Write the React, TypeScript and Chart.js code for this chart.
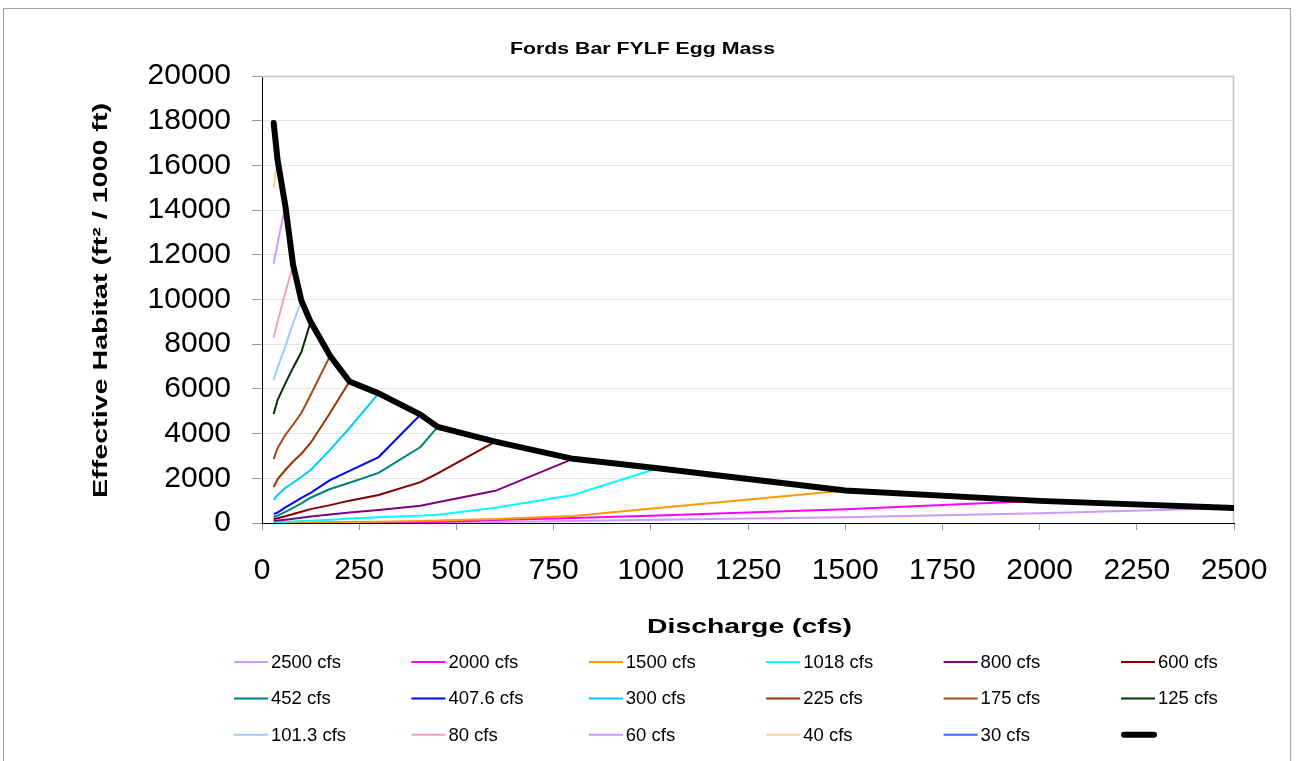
import React, { useEffect, useRef } from "react";
import { Chart, registerables } from "chart.js";

Chart.register(...registerables);

// ---------- data ----------
const discharge = [30, 40, 60, 80, 101.3, 125, 175, 225, 300, 407.6, 452, 600, 800, 1018, 1500, 2000, 2500];

const s2500 = [2, 2, 3, 4, 5, 6, 8, 10, 12, 18, 20, 50, 90, 140, 255, 440, 670];
const s2000 = [5, 5, 6, 8, 10, 12, 15, 20, 25, 40, 50, 130, 220, 330, 610, 990];
const s1500 = [10, 12, 15, 20, 25, 30, 40, 50, 60, 90, 110, 180, 310, 670, 1450];
const s1018 = [30, 35, 50, 70, 85, 100, 150, 200, 260, 330, 370, 680, 1250, 2450];
const s800 = [100, 110, 150, 190, 240, 290, 380, 470, 580, 770, 930, 1440, 2870];
const s600 = [180, 210, 300, 400, 500, 620, 800, 1000, 1250, 1830, 2220, 3640];
const s452 = [270, 330, 500, 680, 880, 1130, 1520, 1800, 2240, 3400, 4300];
const s407 = [400, 470, 700, 900, 1120, 1350, 1920, 2330, 2950, 4850];
const s300 = [1030, 1250, 1570, 1800, 2060, 2370, 3270, 4250, 5800];
const s225 = [1610, 1950, 2370, 2750, 3100, 3580, 4920, 6330];
const s175 = [2860, 3350, 3940, 4400, 4920, 5730, 7480];
const s125 = [4880, 5500, 6250, 6950, 7650, 9000];
const s101 = [6400, 6950, 7900, 8950, 9950];
const s80 = [8300, 9000, 10300, 11550];
const s60 = [11600, 12500, 14200];
const s40 = [15000, 16250];
const s30 = [17900];
const envelope = [17900, 16250, 14200, 11550, 9950, 9000, 7480, 6330, 5800, 4850, 4300, 3640, 2870, 2450, 1450, 990, 670];

const seriesLabels = [
  "2500 cfs", "2000 cfs", "1500 cfs", "1018 cfs", "800 cfs", "600 cfs",
  "452 cfs", "407.6 cfs", "300 cfs", "225 cfs", "175 cfs", "125 cfs",
  "101.3 cfs", "80 cfs", "60 cfs", "40 cfs", "30 cfs", "",
];
const seriesValues = [
  s2500, s2000, s1500, s1018, s800, s600,
  s452, s407, s300, s225, s175, s125,
  s101, s80, s60, s40, s30, envelope,
];
const seriesColors = [
  "#CC99FF", "#FF00FF", "#FF9900", "#00FFFF", "#800080", "#800000",
  "#008080", "#0000FF", "#00CCFF", "#993300", "#A64B13", "#003300",
  "#99CCFF", "#FF99CC", "#CC99FF", "#FFCC99", "#3366FF", "#000000",
];

const xTickValues = [0, 250, 500, 750, 1000, 1250, 1500, 1750, 2000, 2250, 2500];
const yTickValues = [0, 2000, 4000, 6000, 8000, 10000, 12000, 14000, 16000, 18000, 20000];

const chartTitle = "Fords Bar FYLF Egg Mass";
const xTitle = "Discharge (cfs)";
const yTitle = "Effective Habitat (ft² / 1000 ft)";

const FONT = "'Liberation Sans', Arial, sans-serif";

function toPoints(vals: number[]) {
  return vals.map((y, i) => ({ x: discharge[i], y }));
}

function stretched(ctx: CanvasRenderingContext2D, text: string, x: number, y: number, width: number, font: string, rot = 0) {
  ctx.save();
  ctx.font = font;
  const m = ctx.measureText(text).width || 1;
  ctx.translate(x, y);
  if (rot) ctx.rotate(rot);
  ctx.scale(width / m, 1);
  ctx.textAlign = "center";
  ctx.textBaseline = "alphabetic";
  ctx.fillStyle = "#000";
  ctx.fillText(text, 0, 0);
  ctx.restore();
}

const decorPlugin = {
  id: "decor",
  beforeDraw(chart: any) {
    const ctx = chart.ctx as CanvasRenderingContext2D;
    ctx.save();
    ctx.fillStyle = "#ffffff";
    ctx.fillRect(0, 0, chart.width, chart.height);
    ctx.strokeStyle = "#a0a0a0";
    ctx.lineWidth = 1;
    ctx.strokeRect(3.5, 8.5, 1287, 800);
    ctx.restore();
  },
  beforeDatasetsDraw(chart: any) {
    const ctx = chart.ctx as CanvasRenderingContext2D;
    const a = chart.chartArea;
    ctx.save();
    ctx.strokeStyle = "#c4c4c4";
    ctx.lineWidth = 1.5;
    ctx.beginPath();
    ctx.moveTo(a.left, a.top + 0.5);
    ctx.lineTo(a.right - 0.5, a.top + 0.5);
    ctx.lineTo(a.right - 0.5, a.bottom);
    ctx.stroke();
    ctx.restore();
  },
  afterDraw(chart: any) {
    const ctx = chart.ctx as CanvasRenderingContext2D;
    stretched(ctx, chartTitle, 642.5, 54, 265, `bold 17px ${FONT}`);
    stretched(ctx, xTitle, 749.5, 633, 205, `bold 21px ${FONT}`);
    stretched(ctx, yTitle, 107, 300.5, 395, `bold 21px ${FONT}`, -Math.PI / 2);

    // legend (3 rows x 6 columns)
    const ds = chart.data.datasets;
    ctx.save();
    ctx.font = `18.5px ${FONT}`;
    ctx.textBaseline = "middle";
    ctx.textAlign = "left";
    ds.forEach((d: any, i: number) => {
      const col = i % 6;
      const row = Math.floor(i / 6);
      const x0 = 234 + col * 177.4;
      const y = 662 + row * 36.4;
      const thick = d.borderWidth > 3;
      ctx.strokeStyle = d.borderColor;
      ctx.lineWidth = thick ? 6 : 2;
      ctx.lineCap = thick ? "round" : "butt";
      ctx.beginPath();
      if (thick) {
        ctx.moveTo(x0 + 3, y);
        ctx.lineTo(x0 + 33, y);
      } else {
        ctx.moveTo(x0, y);
        ctx.lineTo(x0 + 34, y);
      }
      ctx.stroke();
      if (d.label) {
        ctx.fillStyle = "#000";
        ctx.fillText(d.label, x0 + 37, y + 1);
      }
    });
    ctx.restore();
  },
};

export default function App() {
  const ref = useRef<HTMLCanvasElement | null>(null);

  useEffect(() => {
    if (!ref.current) return;
    const n = seriesValues.length;
    const datasets = seriesValues.map((vals, i) => {
      const isEnv = i === n - 1;
      return {
        label: seriesLabels[i],
        data: toPoints(vals),
        borderColor: seriesColors[i],
        backgroundColor: seriesColors[i],
        borderWidth: isEnv ? 6 : 2,
        pointRadius: 0,
        pointHoverRadius: 0,
        tension: 0,
        fill: false,
        borderJoinStyle: isEnv ? "round" : "miter",
        borderCapStyle: isEnv ? "round" : "butt",
        order: -i,
      };
    });

    const chart = new Chart(ref.current, {
      type: "line",
      data: { datasets } as any,
      options: {
        animation: false,
        responsive: false,
        maintainAspectRatio: false,
        devicePixelRatio: 1,
        layout: { padding: { left: 0, right: 62, top: 76, bottom: 178 } },
        plugins: {
          legend: { display: false },
          title: { display: false },
          tooltip: { enabled: false },
        },
        scales: {
          x: {
            type: "linear",
            min: 0,
            max: 2500,
            afterFit: (s: any) => { s.height = 60; },
            afterBuildTicks: (s: any) => { s.ticks = xTickValues.map((v) => ({ value: v })); },
            grid: { drawOnChartArea: false, drawTicks: true, tickLength: 7, tickColor: "#999999" },
            border: { display: true, color: "#000000", width: 1 },
            ticks: {
              font: { family: FONT, size: 30 },
              color: "#000000",
              padding: 23,
              maxRotation: 0,
              autoSkip: false,
              callback: (v: any) => String(v),
            },
          },
          y: {
            type: "linear",
            min: 0,
            max: 20000,
            afterFit: (s: any) => { s.width = 262; },
            afterBuildTicks: (s: any) => { s.ticks = yTickValues.map((v) => ({ value: v })); },
            grid: { color: "#e3e3e3", tickColor: "#999999", tickLength: 10, drawTicks: true },
            border: { display: true, color: "#000000", width: 1 },
            ticks: {
              font: { family: FONT, size: 30 },
              color: "#000000",
              padding: 21,
              autoSkip: false,
              callback: (v: any) => String(v),
            },
          },
        },
      } as any,
      plugins: [decorPlugin as any],
    });

    return () => chart.destroy();
  }, []);

  return (
    <canvas
      ref={ref}
      width={1296}
      height={761}
      style={{ position: "absolute", left: 0, top: 0, display: "block" }}
    />
  );
}
